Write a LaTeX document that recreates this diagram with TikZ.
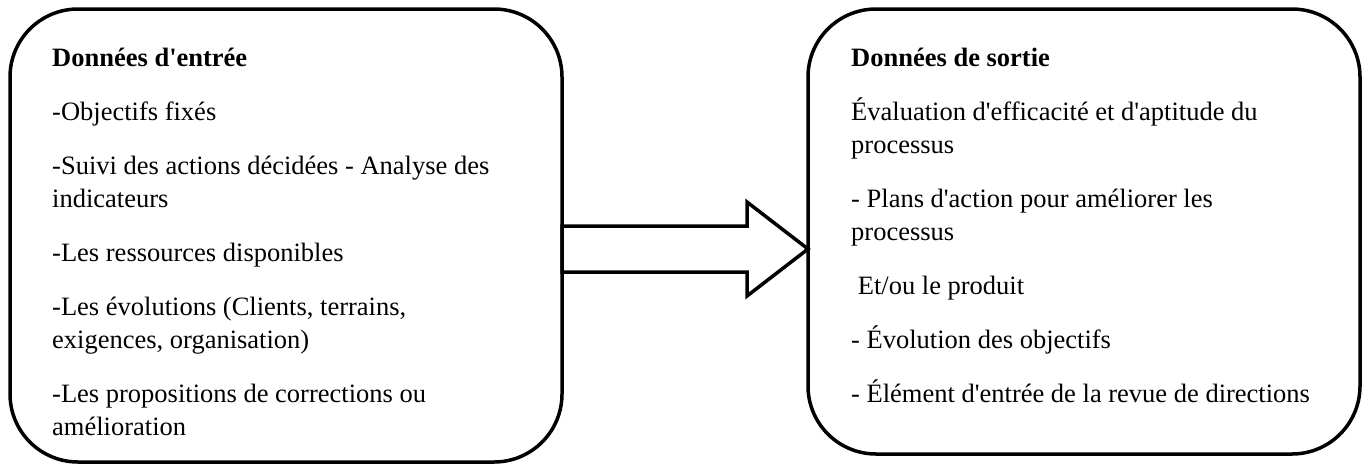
\documentclass[tikz,border=0pt]{standalone}
\usepackage{fontspec}
\setmainfont{Liberation Serif}[Ligatures=TeXOff]
\begin{document}
\begin{tikzpicture}[x=1pt,y=-1pt,
  panel/.style={draw=black,line width=3.5pt,rounded corners=68pt,fill=white},
  bigarrow/.style={draw=black,line width=3.5pt,fill=white,line join=miter},
  txt/.style={anchor=base west,inner sep=0pt,align=left,
    font=\fontsize{26.5}{33}\selectfont},
  head/.style={txt,font=\fontsize{26.5}{33}\selectfont\bfseries}
]
\useasboundingbox (0,0) rectangle (1365,466);

% input and output panels
\draw[panel] (10,9) rectangle (562,462);
\draw[panel] (808,9) rectangle (1360,454);
\coordinate (inR) at (562,249);
\coordinate (outL) at (808,249);

% block arrow from the input panel to the output panel
\draw[bigarrow] (inR |- 0,226) -- (747,226) -- (747,202) -- (outL)
  -- (747,296) -- (747,272) -- (inR |- 0,272) -- cycle;

% input data (multi-line nodes are placed by their last baseline)
\node[head] (i0) at (52,66) {Données d'entrée};
\node[txt] (i1) at (52,120) {-Objectifs fixés};
\node[txt] (i2) at (52,207) {-Suivi des actions décidées - Analyse des\\indicateurs};
\node[txt] (i3) at (52,261) {-Les ressources disponibles};
\node[txt] (i4) at (52,348) {-Les évolutions (Clients, terrains,\\exigences, organisation)};
\node[txt] (i5) at (52,435) {-Les propositions de corrections ou\\amélioration};

% output data
\node[head] (o0) at (851,66) {Données de sortie};
\node[txt] (o1) at (851,153) {Évaluation d'efficacité et d'aptitude du\\processus};
\node[txt] (o2) at (851,240) {- Plans d'action pour améliorer les\\processus};
\node[txt] (o3) at (851,294) {\ Et/ou le produit};
\node[txt] (o4) at (851,348) {- Évolution des objectifs};
\node[txt] (o5) at (851,402) {- Élément d'entrée de la revue de directions};
\end{tikzpicture}
\end{document}
